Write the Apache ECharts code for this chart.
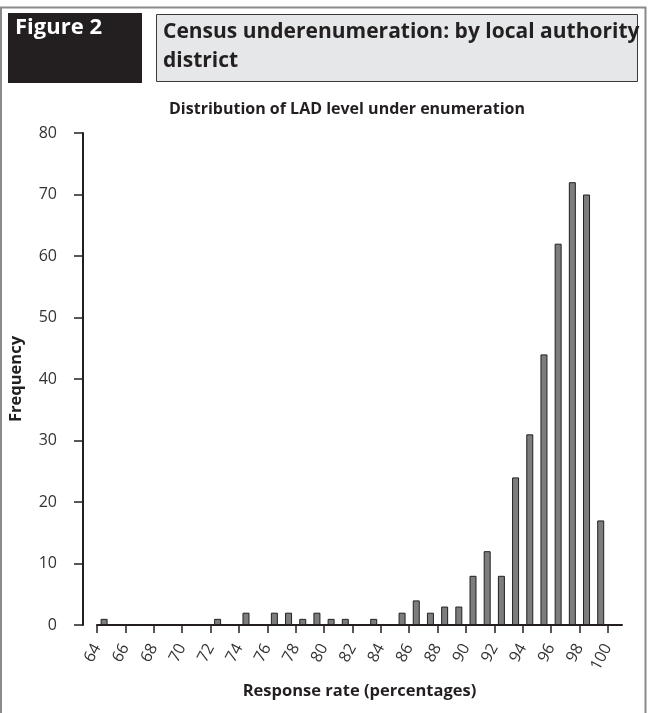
<!DOCTYPE html>
<html>
<head>
<meta charset="utf-8">
<script src="https://cdn.jsdelivr.net/npm/echarts@6/dist/echarts.min.js"></script>
<style>
html,body{margin:0;padding:0;background:#fff;}
#chart{width:657px;height:713px;}
</style>
</head>
<body>
<div id="chart"></div>
<script>
// Bin start (response rate %) -> each bar covers [bin, bin+1)
const bins = [64,65,66,67,68,69,70,71,72,73,74,75,76,77,78,79,80,81,82,83,84,85,86,87,88,89,90,91,92,93,94,95,96,97,98,99];
const frequency = [1,0,0,0,0,0,0,0,1,0,2,0,2,2,1,2,1,1,0,1,0,2,4,2,3,3,8,12,8,24,31,44,62,72,70,17];
const xTicks = [64,66,68,70,72,74,76,78,80,82,84,86,88,90,92,94,96,98,100];
const yTicks = [0,10,20,30,40,50,60,70,80];

const figureLabel = 'Figure 2';
const headerTitle = 'Census underenumeration: by local authority\ndistrict';
const chartTitle = 'Distribution of LAD level under enumeration';
const xName = 'Response rate (percentages)';
const yName = 'Frequency';

const barData = bins.map((b, i) => [b + 0.5, frequency[i]]);

const chart = echarts.init(document.getElementById('chart'), null, {renderer: 'canvas'});
const axisFont = '"Open Sans", "Noto Sans", sans-serif';
chart.setOption({
  animation: false,
  backgroundColor: '#ffffff',
  graphic: [
    // outer frame
    {type: 'polyline', shape: {points: [[1, 713], [1, 7.5], [645.5, 7.5], [645.5, 713]]},
     style: {stroke: '#8a8a8a', lineWidth: 2, fill: null}, z: 1},
    // Figure label box
    {type: 'rect', shape: {x: 8, y: 13, width: 134, height: 70},
     style: {fill: '#231f20'}, z: 2},
    // header title box
    {type: 'rect', shape: {x: 156.5, y: 14.5, width: 481, height: 67},
     style: {fill: '#e6e7e8', stroke: '#3a3a3a', lineWidth: 1}, z: 2}
  ],
  title: [
    {text: figureLabel, left: 15, top: 17, padding: 0,
     textStyle: {color: '#ffffff', fontFamily: '"Open Sans", sans-serif', fontWeight: 'bold', fontSize: 22}, z: 5},
    {text: headerTitle, left: 163, top: 18, padding: 0,
     textStyle: {color: '#231f20', fontFamily: '"Open Sans", sans-serif', fontWeight: 'bold', fontSize: 21, lineHeight: 29}, z: 5},
    {text: chartTitle, left: 347, textAlign: 'center', top: 101, padding: 0,
     textStyle: {color: '#231f20', fontFamily: axisFont, fontWeight: 'bold', fontSize: 16}}
  ],
  grid: {left: 92, right: 35, top: 133, bottom: 88, containLabel: false},
  xAxis: {
    type: 'value', min: 64, max: 101, interval: 2,
    name: xName, nameLocation: 'middle', nameGap: 58,
    nameTextStyle: {color: '#231f20', fontFamily: axisFont, fontWeight: 'bold', fontSize: 16.5},
    axisLine: {show: true, onZero: false, lineStyle: {color: '#231f20', width: 2}},
    axisTick: {show: true, length: 8, customValues: xTicks, lineStyle: {color: '#231f20', width: 1.5}},
    axisLabel: {customValues: xTicks, rotate: 62, margin: 20, color: '#333333', fontFamily: axisFont, fontSize: 16},
    splitLine: {show: false}
  },
  yAxis: {
    type: 'value', min: 0, max: 80, interval: 10, offset: 14,
    name: yName, nameLocation: 'middle', nameGap: 58,
    nameTextStyle: {color: '#231f20', fontFamily: axisFont, fontWeight: 'bold', fontSize: 16.5},
    axisLine: {show: true, onZero: false, lineStyle: {color: '#231f20', width: 2}},
    axisTick: {show: true, length: 9, customValues: yTicks, lineStyle: {color: '#231f20', width: 1.5}},
    axisLabel: {customValues: yTicks, margin: 26, color: '#333333', fontFamily: axisFont, fontSize: 16},
    splitLine: {show: false}
  },
  series: [{
    type: 'bar',
    data: barData,
    barWidth: 7,
    itemStyle: {color: '#7d7d80', borderColor: '#231f20', borderWidth: 1},
    silent: true
  }]
});
</script>
</body>
</html>
